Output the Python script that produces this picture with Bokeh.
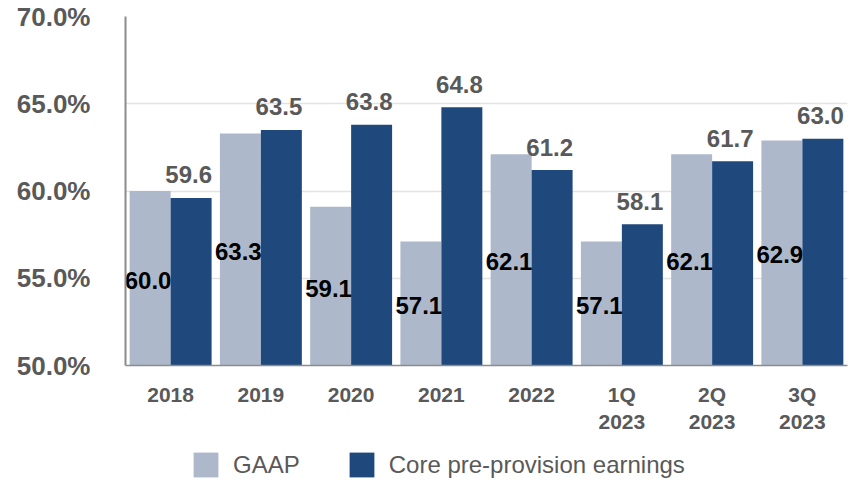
from bokeh.plotting import figure
from bokeh.layouts import column
from bokeh.models import (FactorRange, Range1d, PrintfTickFormatter, FixedTicker,
                          Legend, LegendItem, ColumnDataSource)
from bokeh.transform import dodge
from bokeh.core.properties import value
from bokeh.embed import file_html
from bokeh.resources import INLINE

categories = ["2018", "2019", "2020", "2021", "2022", "1Q\n2023", "2Q\n2023", "3Q\n2023"]
gaap = [60.0, 63.3, 59.1, 57.1, 62.1, 57.1, 62.1, 62.9]
core = [59.6, 63.5, 63.8, 64.8, 61.2, 58.1, 61.7, 63.0]
y_ticks = [50, 55, 60, 65, 70]
series_names = ["GAAP", "Core pre-provision earnings"]

GAAP_COLOR = "#ADB9CA"
CORE_COLOR = "#1F497D"
GREY = "#595959"
FONT = "Liberation Sans"
BASE = y_ticks[0]
W = 849

src = ColumnDataSource(dict(
    cat=categories,
    gaap=gaap,
    core=core,
    gaap_mid=[(BASE + v) / 2 for v in gaap],
    gaap_lbl=[f"{v:.1f}" for v in gaap],
    core_lbl=[f"{v:.1f}" for v in core],
))

p = figure(width=W, height=440,
           x_range=FactorRange(factors=categories),
           y_range=Range1d(y_ticks[0], y_ticks[-1]),
           output_backend="svg", toolbar_location=None,
           min_border_left=125, min_border_right=2,
           min_border_top=16, min_border_bottom=75)
p.outline_line_color = None
p.background_fill_color = "white"

r1 = p.vbar(x=dodge("cat", -0.227, range=p.x_range), top="gaap", bottom=BASE,
            width=0.454, source=src, fill_color=GAAP_COLOR, line_color=None)
r2 = p.vbar(x=dodge("cat", 0.227, range=p.x_range), top="core", bottom=BASE,
            width=0.454, source=src, fill_color=CORE_COLOR, line_color=None)

p.text(x=dodge("cat", -0.25, range=p.x_range), y="gaap_mid", text="gaap_lbl", source=src,
       text_font=value(FONT), text_font_size="24px", text_font_style="bold",
       text_color="black", text_align="center", text_baseline="middle", y_offset=2)
p.text(x=dodge("cat", 0.20, range=p.x_range), y="core", text="core_lbl", source=src,
       text_font=value(FONT), text_font_size="24px", text_font_style="bold",
       text_color=GREY, text_align="center", text_baseline="middle", y_offset=-23)

# axes
p.yaxis.ticker = FixedTicker(ticks=y_ticks)
p.yaxis.formatter = PrintfTickFormatter(format="%.1f%%")
p.yaxis.major_label_text_font = FONT
p.yaxis.major_label_text_font_size = "26px"
p.yaxis.major_label_text_font_style = "bold"
p.yaxis.major_label_text_color = GREY
p.yaxis.major_label_standoff = 29
p.yaxis.major_tick_line_color = None
p.yaxis.minor_tick_line_color = None
p.yaxis.axis_line_color = "#8C8C8C"
p.yaxis.axis_line_width = 2

p.xaxis.major_label_text_font = FONT
p.xaxis.major_label_text_font_size = "21px"
p.xaxis.major_label_text_font_style = "bold"
p.xaxis.major_label_text_color = GREY
p.xaxis.major_label_standoff = 11
p.xaxis.major_tick_line_color = None
p.xaxis.minor_tick_line_color = None
p.xaxis.axis_line_color = "#8C8C8C"
p.xaxis.axis_line_width = 1.5

p.xgrid.grid_line_color = None
p.ygrid.grid_line_color = "#E3E3E3"
p.ygrid.grid_line_width = 1.5

# legend strip below the chart (its frame is aligned with the chart's frame)
pl = figure(width=W, height=40, x_range=Range1d(0, 1), y_range=Range1d(0, 1),
            output_backend="svg", toolbar_location=None,
            x_axis_location=None, y_axis_location=None,
            min_border_left=125, min_border_right=2, min_border_top=0, min_border_bottom=0)
pl.outline_line_color = None
pl.xgrid.grid_line_color = None
pl.ygrid.grid_line_color = None
# swatch renderers: one point each, placed outside the visible range
l1 = pl.vbar(x=[-10], top=[-10], bottom=[-11], width=0.1, fill_color=GAAP_COLOR, line_color=None)
l2 = pl.vbar(x=[-10], top=[-10], bottom=[-11], width=0.1, fill_color=CORE_COLOR, line_color=None)

legend = Legend(items=[LegendItem(label=series_names[0], renderers=[l1]),
                       LegendItem(label=series_names[1], renderers=[l2])],
                location=(65, 0), orientation="horizontal",
                glyph_width=31, glyph_height=31, label_standoff=12, spacing=46,
                padding=0, margin=0, border_line_color=None,
                background_fill_alpha=0,
                label_text_font=FONT, label_text_font_size="24px",
                label_text_color=GREY)
pl.add_layout(legend)

layout = column(p, pl, spacing=0)
open("out.html", "w").write(file_html(layout, INLINE))
